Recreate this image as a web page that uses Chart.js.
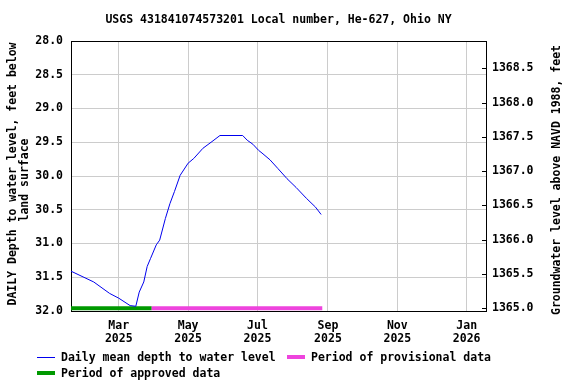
<!DOCTYPE html>
<html>
<head>
<meta charset="utf-8">
<script src="https://cdn.jsdelivr.net/npm/chart.js@4.4.1/dist/chart.umd.min.js"></script>
<style>
  html, body { margin: 0; padding: 0; background: #fff; }
  canvas { display: block; }
</style>
</head>
<body>
<canvas id="gw" width="576" height="384"></canvas>
<script>
const titleText = 'USGS 431841074573201 Local number, He-627, Ohio NY';
const leftTitle = ['DAILY Depth to water level, feet below', 'land surface'];
const rightTitle = 'Groundwater level above NAVD 1988, feet';

// x values are day numbers counted from 2025-01-01
const obsDays  = [17, 37, 51, 59, 69, 74, 77, 81, 84, 87, 92, 95, 100, 104, 108, 113,
                  120, 125, 133, 141, 148, 168, 172, 177, 182, 185, 192, 199, 207, 215, 224, 232, 237];
const obsDepth = [31.41, 31.57, 31.74, 31.81, 31.92, 31.93, 31.72, 31.57, 31.34, 31.22, 31.02, 30.95, 30.63, 30.41, 30.23, 29.99,
                  29.81, 29.74, 29.59, 29.49, 29.40, 29.40, 29.47, 29.53, 29.62, 29.66, 29.76, 29.89, 30.04, 30.17, 30.33, 30.46, 30.57];

const approvedSpan = [17, 88];
const provisionalSpan = [88, 238];
const periodDepth = 31.96;

const xRange = [17, 382];
const monthDays = [59, 120, 181, 243, 304, 365];
const monthLabels = [['Mar', '2025'], ['May', '2025'], ['Jul', '2025'], ['Sep', '2025'], ['Nov', '2025'], ['Jan', '2026']];
const depthTicks = [28.0, 28.5, 29.0, 29.5, 30.0, 30.5, 31.0, 31.5, 32.0];
const elevTicks = [1365.0, 1365.5, 1366.0, 1366.5, 1367.0, 1367.5, 1368.0, 1368.5];
const elevRange = [1364.96, 1368.90];

const FAMILY = '"DejaVu Sans Mono", "Liberation Mono", monospace';
const tickFont = { family: FAMILY, size: 11.5, weight: 'bold', lineHeight: 1.15 };
const BLUE = '#0000ee';
const GREEN = '#009900';
const PINK = '#ee44dd';

function span(a) {
    return [{ x: a[0], y: periodDepth }, { x: a[1], y: periodDepth }];
}

const extras = {
    id: 'extras',
    afterDraw(chart) {
        const ctx = chart.ctx;
        const area = chart.chartArea;
        const y1 = chart.scales.y1;
        ctx.save();
        // inward ticks on the right axis
        ctx.strokeStyle = '#000';
        ctx.lineWidth = 1;
        elevTicks.forEach(v => {
            const py = Math.round(y1.getPixelForValue(v)) + 0.5;
            ctx.beginPath();
            ctx.moveTo(area.right - 4, py);
            ctx.lineTo(area.right, py);
            ctx.stroke();
        });

        ctx.font = 'bold 11.5px ' + FAMILY;
        ctx.fillStyle = '#000';
        ctx.textBaseline = 'middle';
        ctx.textAlign = 'center';
        ctx.fillText(titleText, (area.left + area.right) / 2, 20);

        // axis titles
        ctx.save();
        ctx.translate(13, 174);
        ctx.rotate(-Math.PI / 2);
        ctx.fillText(leftTitle[0], 0, 0);
        ctx.restore();
        ctx.save();
        ctx.translate(25, 180);
        ctx.rotate(-Math.PI / 2);
        ctx.fillText(leftTitle[1], 0, 0);
        ctx.restore();
        ctx.save();
        ctx.translate(557, 180);
        ctx.rotate(-Math.PI / 2);
        ctx.fillText(rightTitle, 0, 0);
        ctx.restore();

        // legend
        ctx.textAlign = 'left';
        const items = [
            { x: 37, y: 357, color: BLUE, w: 1, text: 'Daily mean depth to water level' },
            { x: 287, y: 357, color: PINK, w: 4, text: 'Period of provisional data' },
            { x: 37, y: 373, color: GREEN, w: 4, text: 'Period of approved data' }
        ];
        items.forEach(it => {
            ctx.strokeStyle = it.color;
            ctx.lineWidth = it.w;
            ctx.beginPath();
            const ly = it.w % 2 ? it.y + 0.5 : it.y;
            ctx.moveTo(it.x, ly);
            ctx.lineTo(it.x + 18, ly);
            ctx.stroke();
            ctx.fillStyle = '#000';
            ctx.fillText(it.text, it.x + 24, it.y + 1);
        });
        ctx.restore();
    }
};

const edge = c => (c.tick && (c.tick.value === 28 || c.tick.value === 32)) ? '#000' : '#cccccc';

new Chart(document.getElementById('gw'), {
    type: 'line',
    data: {
        datasets: [
            {
                data: obsDays.map((d, i) => ({ x: d, y: obsDepth[i] })),
                borderColor: BLUE,
                borderWidth: 1,
                pointRadius: 0,
                tension: 0,
                yAxisID: 'y'
            },
            {
                data: span(provisionalSpan),
                borderColor: PINK,
                borderWidth: 4,
                borderCapStyle: 'butt',
                pointRadius: 0,
                yAxisID: 'y'
            },
            {
                data: span(approvedSpan),
                borderColor: GREEN,
                borderWidth: 4,
                borderCapStyle: 'butt',
                pointRadius: 0,
                yAxisID: 'y'
            }
        ]
    },
    options: {
        responsive: false,
        animation: false,
        events: [],
        layout: { padding: { top: 41, left: 0, right: 0, bottom: 0 } },
        plugins: {
            legend: { display: false },
            title: { display: false },
            tooltip: { enabled: false }
        },
        scales: {
            x: {
                type: 'linear',
                min: xRange[0],
                max: xRange[1],
                afterBuildTicks: s => { s.ticks = monthDays.map(v => ({ value: v })); },
                afterFit: s => { s.height = 73; },
                ticks: {
                    autoSkip: false,
                    maxRotation: 0,
                    padding: 8,
                    color: '#000',
                    font: tickFont,
                    callback: v => monthLabels[monthDays.indexOf(v)]
                },
                grid: { color: '#cccccc', drawTicks: false },
                border: { color: '#000' }
            },
            y: {
                position: 'left',
                reverse: true,
                min: 28,
                max: 32,
                afterBuildTicks: s => { s.ticks = depthTicks.map(v => ({ value: v })); },
                afterFit: s => { s.width = 71; },
                ticks: {
                    padding: 8,
                    color: '#000',
                    font: tickFont,
                    callback: v => v.toFixed(1)
                },
                grid: { color: edge, drawTicks: false },
                border: { color: '#000' }
            },
            y1: {
                position: 'right',
                min: elevRange[0],
                max: elevRange[1],
                afterBuildTicks: s => { s.ticks = elevTicks.map(v => ({ value: v })); },
                afterFit: s => { s.width = 90; },
                ticks: {
                    padding: 6,
                    color: '#000',
                    font: tickFont,
                    callback: v => v.toFixed(1)
                },
                grid: { drawOnChartArea: false, drawTicks: false },
                border: { color: '#000' }
            }
        }
    },
    plugins: [extras]
});
</script>
</body>
</html>
